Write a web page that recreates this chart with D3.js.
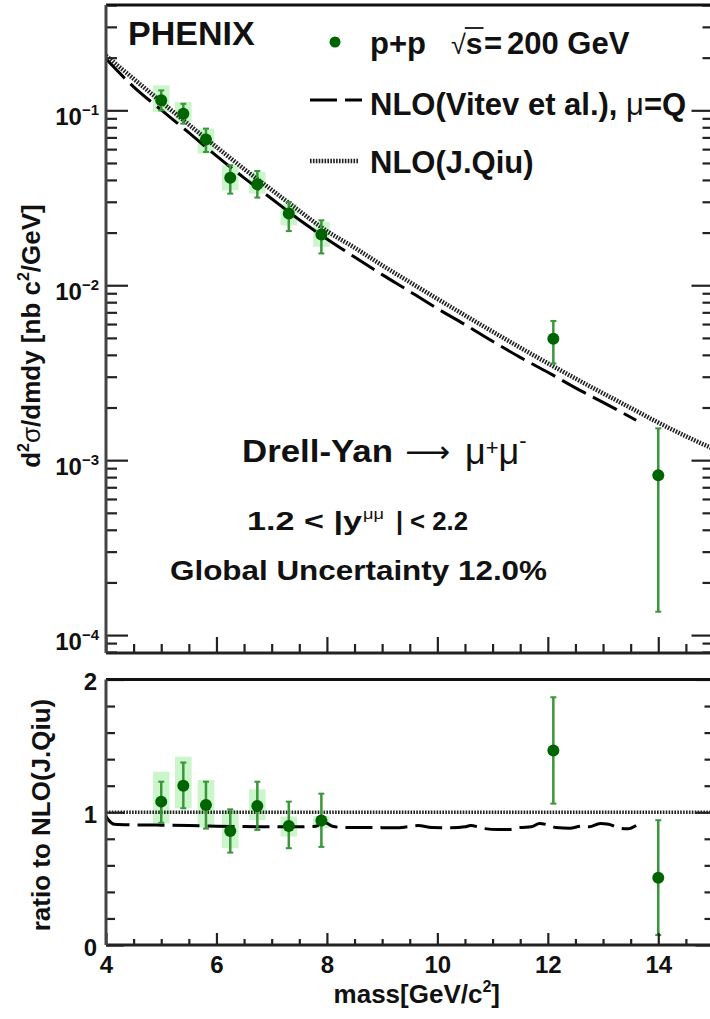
<!DOCTYPE html>
<html>
<head>
<meta charset="utf-8">
<script src="https://cdn.jsdelivr.net/npm/d3@7"></script>
<style>
  html, body { margin: 0; padding: 0; background: #fff; }
  svg { display: block; }
  text { font-family: "Liberation Sans", Arial, Helvetica, sans-serif; font-weight: bold; fill: #111; }
</style>
</head>
<body>
<svg id="chart" width="710" height="1019"></svg>
<script>
// ---- PHENIX Drell-Yan -> mu+mu-, p+p at sqrt(s) = 200 GeV, 1.2 < |y| < 2.2 ----

// data points: dimuon mass [GeV/c^2]
const mass = [5.0, 5.4, 5.81, 6.25, 6.74, 7.31, 7.9, 12.1, 14.0];
// d2sigma/dmdy [nb c^2/GeV] with statistical error band
const xsec   = [0.114, 0.0957, 0.068, 0.0412, 0.0378, 0.0257, 0.0195, 0.00495, 0.00082];
const xsecHi = [0.130, 0.109, 0.0786, 0.0485, 0.045, 0.0299, 0.0235, 0.00625, 0.00152];
const xsecLo = [0.100, 0.0839, 0.0578, 0.0334, 0.0317, 0.0204, 0.0152, 0.00357, 0.000136];
// systematic boxes (first seven points)
const sysHi = [0.139, 0.1115, 0.0786, 0.0485, 0.0444, 0.0293, 0.0230];
const sysLo = [0.0978, 0.0857, 0.0566, 0.0349, 0.0334, 0.0220, 0.0166];

// ratio to NLO (J.Qiu)
const ratio   = [1.08, 1.20, 1.055, 0.859, 1.047, 0.897, 0.937, 1.466, 0.506];
const ratioHi = [1.23, 1.374, 1.23, 1.022, 1.23, 1.08, 1.14, 1.867, 0.94];
const ratioLo = [0.92, 1.03, 0.877, 0.696, 0.867, 0.729, 0.739, 1.065, 0.075];
const ratioSysHi = [1.306, 1.419, 1.243, 1.017, 1.173, 0.967, 0.97];
const ratioSysLo = [0.917, 1.03, 0.886, 0.729, 0.942, 0.817, 0.88];

// NLO calculation, J.Qiu
const qiuMass = [4.0, 4.5, 5.0, 5.5, 6.0, 6.5, 7.0, 7.5, 8.0, 8.5, 9.0, 9.5, 10.0,
                 10.5, 11.0, 11.5, 12.0, 12.5, 13.0, 13.5, 14.0, 14.5, 15.0];
const qiuXsec = [0.2051, 0.1514, 0.1117, 0.0828, 0.0617, 0.0462, 0.0351, 0.0266, 0.0204,
                 0.0164, 0.0130, 0.01042, 0.00836, 0.00673, 0.00543, 0.00440, 0.00358,
                 0.00293, 0.00241, 0.00199, 0.00164, 0.00137, 0.00116];

// NLO calculation, Vitev et al., mu = Q
const vitevMass = [4.0, 4.5, 5.0, 5.5, 6.0, 6.5, 7.0, 7.5, 8.0, 8.5, 9.0, 9.5, 10.0,
                   10.5, 11.0, 11.5, 12.0, 12.5, 13.0, 13.5, 13.6];
const vitevXsec = [0.197, 0.1363, 0.1005, 0.0745, 0.0549, 0.0411, 0.0312, 0.0237, 0.0184,
                   0.0145, 0.0115, 0.00922, 0.00736, 0.00596, 0.00478, 0.00387, 0.00318,
                   0.00259, 0.00214, 0.00176, 0.00169];

// Vitev / Qiu ratio curve
const vitevRatioMass = [4.0, 4.05, 4.15, 4.5, 5.0, 5.5, 6.0, 6.5, 7.0, 7.5, 7.8, 7.95, 8.1,
                        8.3, 8.75, 9.25, 9.45, 9.65, 9.9, 10.25, 10.5, 10.6, 10.85, 11.1,
                        11.3, 11.5, 11.7, 11.85, 12.0, 12.15, 12.4, 12.6, 12.75, 12.95,
                        13.1, 13.3, 13.45, 13.6];
const vitevRatio = [0.97, 0.94, 0.91, 0.905, 0.903, 0.90, 0.895, 0.892, 0.89, 0.89, 0.895,
                    0.925, 0.895, 0.885, 0.885, 0.883, 0.89, 0.90, 0.885, 0.883, 0.89, 0.90,
                    0.877, 0.87, 0.87, 0.885, 0.89, 0.915, 0.905, 0.885, 0.88, 0.895, 0.89,
                    0.915, 0.91, 0.88, 0.875, 0.90];

// axis tick values and labels
const xMajor = [4, 6, 8, 10, 12, 14];
const decades = [1e-4, 1e-3, 1e-2, 1e-1];
const decadeExp = ["\u22124", "\u22123", "\u22122", "\u22121"];
const ratioMajor = [0, 1, 2];

// ---------------------------------------------------------------
const svg = d3.select("#chart");
const INK = "#222";
const GREEN = "#006400";
const BAR = "#3a963a";
const BOX = "#cbf5cb";

const x  = d3.scaleLinear().domain([4, 15]).range([106, 713.5]);
const yT = d3.scaleLog().domain([7.9e-5, 0.4]).range([653, 5]);
const yR = d3.scaleLinear().domain([0, 2]).range([945, 679.5]);

const xMinor = d3.range(4.5, 15.01, 0.5).filter(v => !xMajor.includes(v));
const yMinor = [];
[1e-5, 1e-4, 1e-3, 1e-2, 1e-1].forEach(d => {
  for (let k = 2; k <= 9; k++) {
    const v = d * k;
    if (v >= 7.9e-5 && v <= 0.4) yMinor.push(v);
  }
});
const rMinor = d3.range(0.2, 2, 0.2).filter(v => Math.abs(v - 1) > 1e-6);

function styleAxis(g) {
  g.select(".domain").remove();
  g.selectAll(".tick line").attr("stroke", INK).attr("stroke-width", 2.2);
  g.attr("font-family", null).attr("font-size", null);
}

// clip regions for the two panels
const defs = svg.append("defs");
defs.append("clipPath").attr("id", "clipTop").append("rect")
  .attr("x", 106).attr("y", 5).attr("width", 607.5).attr("height", 648);
defs.append("clipPath").attr("id", "clipBot").append("rect")
  .attr("x", 106).attr("y", 679.5).attr("width", 607.5).attr("height", 265.5);

// statistical error bars and markers
function errorBars(g, ys, hi, lo, yScale) {
  const gg = g.append("g").attr("stroke", BAR).attr("stroke-width", 2.5);
  mass.forEach((m, i) => {
    const cx = x(m);
    gg.append("line").attr("x1", cx).attr("x2", cx).attr("y1", yScale(hi[i])).attr("y2", yScale(lo[i]));
    gg.append("line").attr("x1", cx - 3).attr("x2", cx + 3).attr("y1", yScale(hi[i])).attr("y2", yScale(hi[i])).attr("stroke-width", 2);
    gg.append("line").attr("x1", cx - 3).attr("x2", cx + 3).attr("y1", yScale(lo[i])).attr("y2", yScale(lo[i])).attr("stroke-width", 2);
  });
  g.selectAll("circle.pt").data(ys).join("circle").attr("class", "pt")
    .attr("cx", (d, i) => x(mass[i])).attr("cy", d => yScale(d)).attr("r", 6)
    .attr("fill", GREEN);
}

// ================= upper panel =================
const upper = svg.append("g");
const upperPlot = upper.append("g").attr("clip-path", "url(#clipTop)");

// systematic boxes
upperPlot.selectAll("rect.sys").data(sysHi).join("rect")
  .attr("class", "sys")
  .attr("x", (d, i) => x(mass[i] - 0.15))
  .attr("width", (d, i) => x(mass[i] + 0.15) - x(mass[i] - 0.15))
  .attr("y", (d, i) => yT(sysHi[i]))
  .attr("height", (d, i) => yT(sysLo[i]) - yT(sysHi[i]))
  .attr("fill", BOX);

// theory curves
const lineUpper = (xs, ys) => d3.line().curve(d3.curveMonotoneX)
  .x((d, i) => x(xs[i])).y((d, i) => yT(ys[i]))(ys);
upperPlot.append("path").attr("d", lineUpper(vitevMass, vitevXsec))
  .attr("fill", "none").attr("stroke", "#000").attr("stroke-width", 3)
  .attr("stroke-dasharray", "27,8");
upperPlot.append("path").attr("d", lineUpper(qiuMass, qiuXsec))
  .attr("fill", "none").attr("stroke", INK).attr("stroke-width", 4.5)
  .attr("stroke-dasharray", "1.6,1.3");

errorBars(upperPlot, xsec, xsecHi, xsecLo, yT);

// axes of the upper panel
upper.append("g").attr("transform", "translate(106,0)")
  .call(d3.axisLeft(yT).tickValues(decades).tickSize(-22).tickFormat("")).call(styleAxis);
upper.append("g").attr("transform", "translate(106,0)")
  .call(d3.axisLeft(yT).tickValues(yMinor).tickSize(-11).tickFormat("")).call(styleAxis);
upper.append("g").attr("transform", "translate(713.5,0)")
  .call(d3.axisRight(yT).tickValues(decades).tickSize(-22).tickFormat("")).call(styleAxis);
upper.append("g").attr("transform", "translate(713.5,0)")
  .call(d3.axisRight(yT).tickValues(yMinor).tickSize(-11).tickFormat("")).call(styleAxis);
upper.append("g").attr("transform", "translate(0,653)")
  .call(d3.axisBottom(x).tickValues(xMajor).tickSize(-16).tickFormat("")).call(styleAxis);
upper.append("g").attr("transform", "translate(0,653)")
  .call(d3.axisBottom(x).tickValues(xMinor).tickSize(-9).tickFormat("")).call(styleAxis);

// frame
upper.append("line").attr("x1", 106).attr("x2", 713.5).attr("y1", 5).attr("y2", 5).attr("stroke", "#111").attr("stroke-width", 3);
upper.append("line").attr("x1", 106).attr("x2", 713.5).attr("y1", 653).attr("y2", 653).attr("stroke", INK).attr("stroke-width", 3);
upper.append("line").attr("x1", 106).attr("x2", 106).attr("y1", 5).attr("y2", 653).attr("stroke", "#444").attr("stroke-width", 3);

// decade labels 10^n
decades.forEach((d, i) => {
  const t = upper.append("text").attr("x", 99).attr("y", yT(d) + 15)
    .attr("text-anchor", "end").style("font-size", "24px");
  t.append("tspan").text("10");
  t.append("tspan").attr("dy", -10).style("font-size", "15px").text(decadeExp[i]);
});

// y title
(function () {
  const t = upper.append("text").attr("transform", "translate(40,336) rotate(-90)")
    .attr("text-anchor", "middle").style("font-size", "26px");
  t.append("tspan").text("d");
  t.append("tspan").attr("dy", -11).style("font-size", "16px").text("2");
  t.append("tspan").attr("dy", 11).style("font-weight", "normal").text("\u03c3");
  t.append("tspan").text("/dmdy [nb c");
  t.append("tspan").attr("dy", -11).style("font-size", "16px").text("2");
  t.append("tspan").attr("dy", 11).text("/GeV]");
})();

// PHENIX label
upper.append("text").attr("x", 128).attr("y", 45).style("font-size", "34px").text("PHENIX");

// legend
upper.append("circle").attr("cx", 335).attr("cy", 42).attr("r", 5.5).attr("fill", GREEN);
upper.append("text").attr("x", 370).attr("y", 54).style("font-size", "31px").text("p+p");
const sqrtS = upper.append("text").attr("x", 451).attr("y", 54);
sqrtS.append("tspan").style("font-size", "27px").style("font-weight", "normal").text("\u221a");
sqrtS.append("tspan").style("font-size", "30px").text("s");
{
  const n = sqrtS.node();
  const r0 = n.getExtentOfChar(0);
  const r1 = n.getExtentOfChar(1);
  upper.append("line").attr("x1", r0.x + r0.width - 1).attr("x2", r1.x + r1.width + 1)
    .attr("y1", 28).attr("y2", 28).attr("stroke", "#111").attr("stroke-width", 1.8);
}
upper.append("text").attr("x", 484).attr("y", 54).style("font-size", "31px").text("=");
upper.append("text").attr("x", 507).attr("y", 54).style("font-size", "31px").text("200 GeV");
upper.append("line").attr("x1", 310).attr("x2", 362).attr("y1", 100).attr("y2", 100)
  .attr("stroke", "#000").attr("stroke-width", 3).attr("stroke-dasharray", "27,8");
(function () {
  const t = upper.append("text").attr("x", 370).attr("y", 115).style("font-size", "31px");
  t.append("tspan").text("NLO(Vitev et al.), ");
  t.append("tspan").style("font-weight", "normal").text("\u03bc");
  t.append("tspan").text("=Q");
})();
upper.append("line").attr("x1", 310).attr("x2", 358).attr("y1", 161).attr("y2", 161)
  .attr("stroke", INK).attr("stroke-width", 4.5).attr("stroke-dasharray", "1.6,1.3");
upper.append("text").attr("x", 370).attr("y", 173).style("font-size", "31px").text("NLO(J.Qiu)");

// process and kinematic annotations
upper.append("text").attr("x", 242).attr("y", 462).style("font-size", "31px")
  .attr("textLength", 151).attr("lengthAdjust", "spacingAndGlyphs").text("Drell-Yan");
upper.append("text").attr("x", 405).attr("y", 462)
  .style("font-family", "'DejaVu Sans', sans-serif").style("font-weight", "normal").style("font-size", "30px")
  .attr("textLength", 45).attr("lengthAdjust", "spacingAndGlyphs").text("\u27f6");
(function () {
  const t = upper.append("text").attr("x", 465).attr("y", 464).style("font-weight", "normal");
  t.append("tspan").style("font-size", "36px").text("\u03bc");
  t.append("tspan").attr("dy", -9).style("font-size", "22px").text("+");
  t.append("tspan").attr("dy", 9).style("font-size", "36px").text("\u03bc");
  t.append("tspan").attr("dy", -16).style("font-size", "22px").text("-");
})();
upper.append("text").attr("x", 247).attr("y", 530).style("font-size", "25px")
  .attr("textLength", 115).attr("lengthAdjust", "spacingAndGlyphs").text("1.2 < |y");
upper.append("text").attr("x", 363).attr("y", 519).style("font-size", "14px").style("font-weight", "normal")
  .attr("textLength", 21).attr("lengthAdjust", "spacingAndGlyphs").text("\u03bc\u03bc");
upper.append("text").attr("x", 396).attr("y", 530).style("font-size", "25px").text("|");
upper.append("text").attr("x", 410).attr("y", 530).style("font-size", "26px")
  .attr("textLength", 58).attr("lengthAdjust", "spacingAndGlyphs").text("< 2.2");
upper.append("text").attr("x", 170).attr("y", 580).style("font-size", "28px")
  .attr("textLength", 377).attr("lengthAdjust", "spacingAndGlyphs").text("Global Uncertainty 12.0%");

// ================= ratio panel =================
const lower = svg.append("g");
const lowerPlot = lower.append("g").attr("clip-path", "url(#clipBot)");

lowerPlot.selectAll("rect.sys").data(ratioSysHi).join("rect")
  .attr("class", "sys")
  .attr("x", (d, i) => x(mass[i] - 0.15))
  .attr("width", (d, i) => x(mass[i] + 0.15) - x(mass[i] - 0.15))
  .attr("y", (d, i) => yR(ratioSysHi[i]))
  .attr("height", (d, i) => yR(ratioSysLo[i]) - yR(ratioSysHi[i]))
  .attr("fill", BOX);

// reference (Qiu / Qiu) and Vitev / Qiu curves
lowerPlot.append("path")
  .attr("d", d3.line().x((d, i) => x(qiuMass[i])).y(d => yR(d))(qiuXsec.map(v => v / v)))
  .attr("fill", "none").attr("stroke", INK).attr("stroke-width", 3.5)
  .attr("stroke-dasharray", "1.6,1.3");
lowerPlot.append("path")
  .attr("d", d3.line().curve(d3.curveMonotoneX).x((d, i) => x(vitevRatioMass[i])).y(d => yR(d))(vitevRatio))
  .attr("fill", "none").attr("stroke", "#000").attr("stroke-width", 3)
  .attr("stroke-dasharray", "27,8");

errorBars(lowerPlot, ratio, ratioHi, ratioLo, yR);

// axes of the ratio panel
lower.append("g").attr("transform", "translate(106,0)")
  .call(d3.axisLeft(yR).tickValues(ratioMajor).tickSize(-18).tickPadding(9).tickFormat(d3.format("d")))
  .call(styleAxis)
  .call(g => g.selectAll("text").attr("dy", "0.42em").attr("fill", "#111").style("font-size", "24px"));
lower.append("g").attr("transform", "translate(106,0)")
  .call(d3.axisLeft(yR).tickValues(rMinor).tickSize(-9).tickFormat("")).call(styleAxis);
lower.append("g").attr("transform", "translate(713.5,0)")
  .call(d3.axisRight(yR).tickValues(ratioMajor).tickSize(-18).tickFormat("")).call(styleAxis);
lower.append("g").attr("transform", "translate(713.5,0)")
  .call(d3.axisRight(yR).tickValues(rMinor).tickSize(-9).tickFormat("")).call(styleAxis);
lower.append("g").attr("transform", "translate(0,945)")
  .call(d3.axisBottom(x).tickValues(xMajor).tickSize(-12).tickPadding(10.5).tickFormat(d3.format("d")))
  .call(styleAxis)
  .call(g => g.selectAll("text").attr("fill", "#111").style("font-size", "24px"));
lower.append("g").attr("transform", "translate(0,945)")
  .call(d3.axisBottom(x).tickValues(xMinor).tickSize(-6).tickFormat("")).call(styleAxis);

lower.append("line").attr("x1", 106).attr("x2", 713.5).attr("y1", 679.5).attr("y2", 679.5).attr("stroke", "#111").attr("stroke-width", 3);
lower.append("line").attr("x1", 106).attr("x2", 713.5).attr("y1", 945).attr("y2", 945).attr("stroke", INK).attr("stroke-width", 3);
lower.append("line").attr("x1", 106).attr("x2", 106).attr("y1", 679.5).attr("y2", 945).attr("stroke", "#444").attr("stroke-width", 3);

// axis titles
lower.append("text").attr("transform", "translate(50,815) rotate(-90)")
  .attr("text-anchor", "middle").style("font-size", "26px").text("ratio to NLO(J.Qiu)");
(function () {
  const t = lower.append("text").attr("x", 500).attr("y", 1003).attr("text-anchor", "end").style("font-size", "26px");
  t.append("tspan").text("mass[GeV/c");
  t.append("tspan").attr("dy", -11).style("font-size", "16px").text("2");
  t.append("tspan").attr("dy", 11).text("]");
})();
</script>
</body>
</html>
